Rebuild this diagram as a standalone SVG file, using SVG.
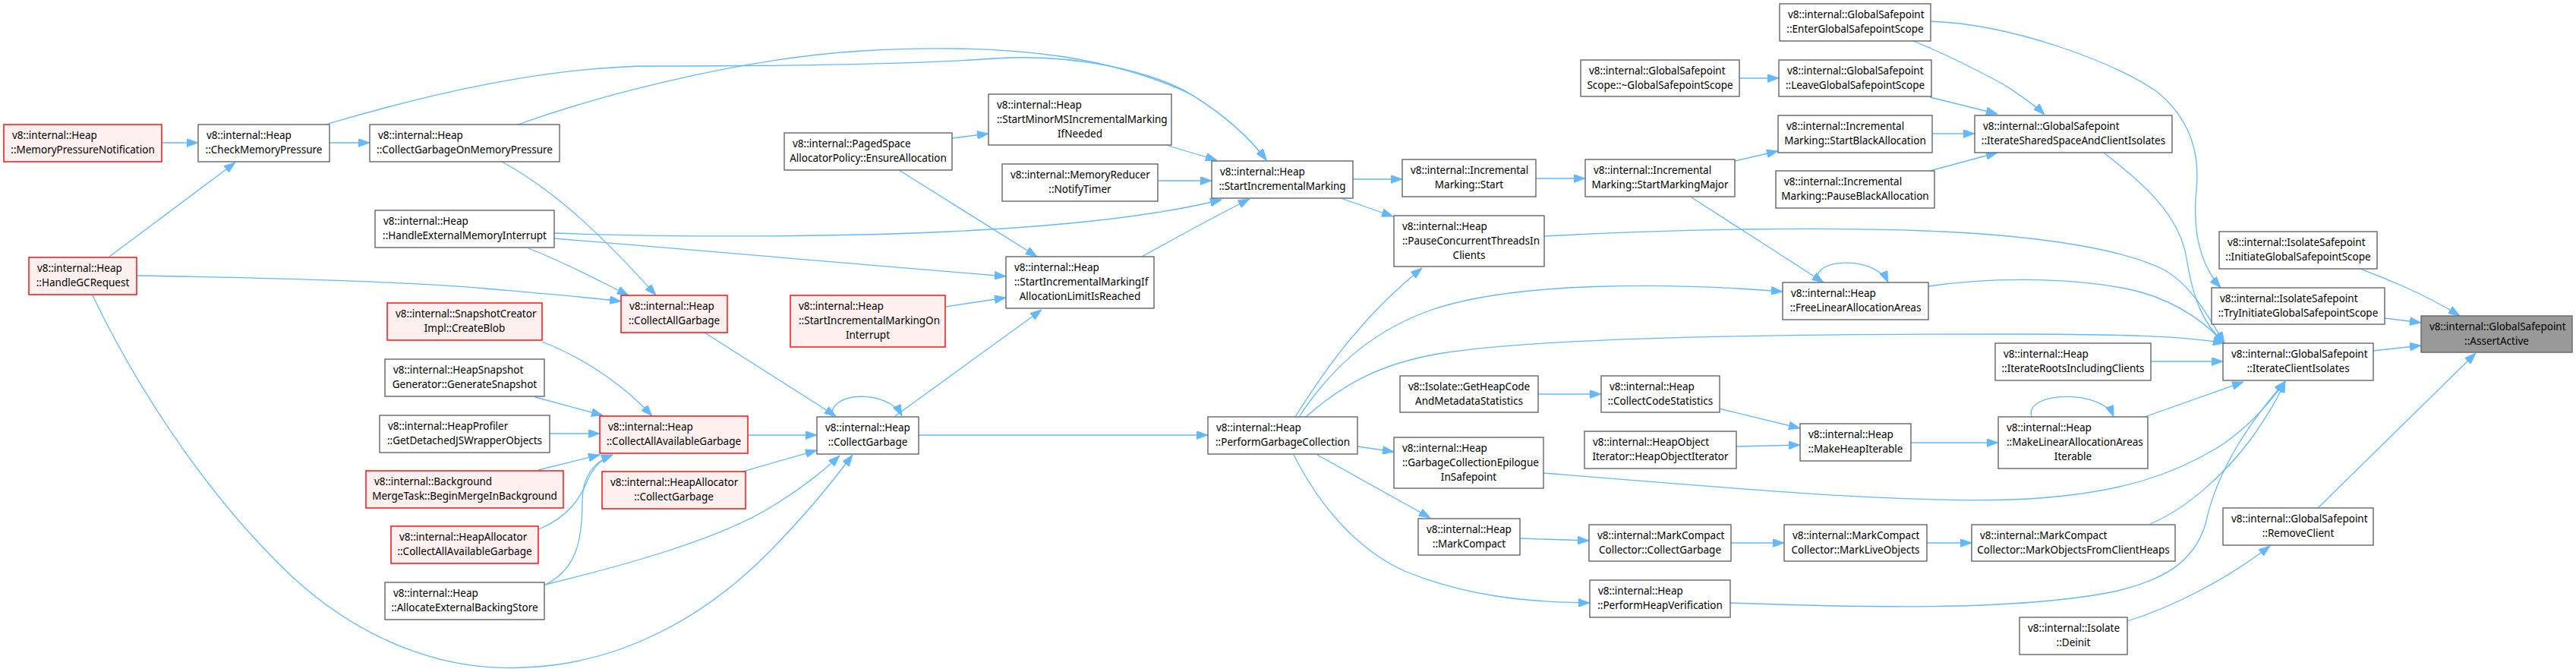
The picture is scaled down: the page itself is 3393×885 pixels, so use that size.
<svg xmlns="http://www.w3.org/2000/svg" width="3393" height="885" viewBox="0 0 3393 885">
<style>
.n rect{fill:#ffffff;stroke:#666666;stroke-width:1.4}
.r rect{fill:#fff0f0;stroke:#ff0000;stroke-width:1.4}
.g rect{fill:#999999;stroke:#666666;stroke-width:1.4}
text{font-family:"Noto Sans","Liberation Sans",sans-serif;font-size:13.5px;fill:#000000}
.m{text-anchor:middle}
#edges path{fill:none;stroke:#63b8ff;stroke-width:1.3;marker-end:url(#ah)}
</style>
<defs>
<marker id="ah" markerUnits="userSpaceOnUse" markerWidth="15" markerHeight="11" refX="15" refY="5.5" orient="auto"><path d="M0,0 L15,5.5 L0,11 z" fill="#63b8ff" stroke="#63b8ff" stroke-width="0.8"/></marker>
</defs>
<rect x="0" y="0" width="3393" height="885" fill="#ffffff"/>
<g id="edges">
<path d="M213,188 L261,188"/>
<path d="M434,188 L487,188"/>
<path d="M144,338 L310,214"/>
<path d="M429,164 C560,125 720,87 863,87 C1000,87 1200,85 1310,77 C1420,70 1520,95 1570,125 C1610,150 1645,180 1668,211"/>
<path d="M682,164 C820,115 1000,75 1135,67 C1200,63 1300,60 1403,75 C1480,88 1530,105 1570,125 C1610,150 1645,180 1668,211"/>
<path d="M661,213 C720,245 780,295 864,389"/>
<path d="M730,307 C900,313 1100,312 1250,305 C1400,298 1520,285 1609,263"/>
<path d="M730,314 C950,333 1150,350 1325,364"/>
<path d="M696,327 C730,340 770,360 800,375 C812,381 820,385 828,389"/>
<path d="M180,363 C350,366 520,370 640,380 C720,387 780,392 818,397"/>
<path d="M121,387 C170,490 260,640 380,755 C470,840 580,885 690,879 C820,875 930,810 1010,730 C1060,680 1100,630 1123,599"/>
<path d="M714,450 C760,468 815,500 859,548"/>
<path d="M705,523 L794,547"/>
<path d="M724,571 L790,571"/>
<path d="M709,619 L790,599"/>
<path d="M710,697 C750,680 765,655 775,630 C785,610 795,604 807,599"/>
<path d="M718,770 C760,750 767,710 767,660 C767,625 785,607 807,599"/>
<path d="M718,770 C820,745 950,710 1020,665 C1060,640 1085,620 1106,600"/>
<path d="M985,573 L1076,573"/>
<path d="M978,621 L1076,593"/>
<path d="M928,438 L1101,548"/>
<path d="M1096,549 C1090,515 1170,512 1188,548"/>
<path d="M1179,548 L1372,408"/>
<path d="M1210,573 L1591,573"/>
<path d="M1245,404 L1325,392"/>
<path d="M1254,182 L1302,176"/>
<path d="M1184,224 L1366,338"/>
<path d="M1539,192 L1603,211"/>
<path d="M1525,238 L1596,238"/>
<path d="M1504,338 C1540,318 1600,285 1646,262"/>
<path d="M1782,236 L1847,236"/>
<path d="M1766,261 L1835,285"/>
<path d="M2022,235 L2088,235"/>
<path d="M2285,212 L2342,199"/>
<path d="M2228,260 L2402,372"/>
<path d="M2291,103 L2343,103"/>
<path d="M2520,54 C2560,70 2610,95 2642,113 C2660,125 2680,138 2693,151"/>
<path d="M2542,128 L2631,150"/>
<path d="M2545,176 L2601,176"/>
<path d="M2542,225 L2631,201"/>
<path d="M2543,28 C2650,32 2780,80 2840,120 C2890,160 2897,210 2893,250 C2888,300 2895,345 2925,379"/>
<path d="M2771,201 C2820,240 2870,280 2880,340 C2888,390 2900,425 2930,452"/>
<path d="M2034,311 C2200,302 2400,298 2560,305 C2700,312 2800,330 2850,355 C2885,375 2905,410 2930,452"/>
<path d="M2540,377 C2620,365 2720,365 2800,380 C2860,392 2900,420 2930,452"/>
<path d="M1711,549 C1750,490 1800,440 1880,410 C1990,370 2200,372 2348,384"/>
<path d="M1706,549 C1740,495 1790,420 1873,353"/>
<path d="M1720,549 C1770,505 1820,478 1900,465 C2050,442 2400,440 2650,440 C2800,440 2880,443 2930,452"/>
<path d="M2833,476 L2928,476"/>
<path d="M2825,549 L2955,503"/>
<path d="M2033,623 C2300,645 2500,662 2650,658 C2800,652 2870,620 2920,590 C2960,565 2990,530 3010,502"/>
<path d="M2832,690 C2880,670 2930,625 2965,578 C2985,550 3000,525 3010,502"/>
<path d="M2279,794 C2450,800 2650,805 2780,780 C2850,765 2890,740 2905,690 C2920,620 2960,560 3010,502"/>
<path d="M3126,462 L3189,455"/>
<path d="M3141,419 L3189,425"/>
<path d="M3109,354 C3140,366 3190,385 3240,416"/>
<path d="M3053,669 L3261,465"/>
<path d="M2802,818 C2860,800 2930,765 2990,719"/>
<path d="M1788,588 L1836,595"/>
<path d="M1735,599 L1884,682"/>
<path d="M1704,599 C1740,670 1790,725 1850,752 C1930,785 2010,793 2094,794"/>
<path d="M2002,709 L2093,712"/>
<path d="M2280,715 L2350,715"/>
<path d="M2538,715 L2597,715"/>
<path d="M2026,519 L2109,519"/>
<path d="M2264,538 L2371,564"/>
<path d="M2287,588 L2371,586"/>
<path d="M2517,583 L2632,583"/>
<path d="M2676,549 C2665,515 2770,512 2784,549"/>
<path d="M2396,372 C2380,340 2470,335 2487,372"/>
</g>
<g id="n1" class="r"><rect x="5" y="164" width="208" height="49"/><text x="16" y="183">v8::internal::Heap</text><text x="109" y="202" class="m">::MemoryPressureNotification</text></g>
<g id="n2" class="n"><rect x="261" y="164" width="173" height="49"/><text x="272" y="183">v8::internal::Heap</text><text x="347.5" y="202" class="m">::CheckMemoryPressure</text></g>
<g id="n3" class="n"><rect x="487" y="164" width="250" height="49"/><text x="498" y="183">v8::internal::Heap</text><text x="612" y="202" class="m">::CollectGarbageOnMemoryPressure</text></g>
<g id="n4" class="n"><rect x="494" y="277" width="236" height="49"/><text x="505" y="296">v8::internal::Heap</text><text x="612" y="315" class="m">::HandleExternalMemoryInterrupt</text></g>
<g id="n5" class="r"><rect x="38" y="339" width="142" height="49"/><text x="49" y="358">v8::internal::Heap</text><text x="109" y="377" class="m">::HandleGCRequest</text></g>
<g id="n6" class="r"><rect x="510" y="399" width="204" height="49"/><text x="521" y="418">v8::internal::SnapshotCreator</text><text x="612" y="437" class="m">Impl::CreateBlob</text></g>
<g id="n7" class="n"><rect x="507" y="473" width="210" height="49"/><text x="518" y="492">v8::internal::HeapSnapshot</text><text x="612" y="511" class="m">Generator::GenerateSnapshot</text></g>
<g id="n8" class="n"><rect x="500" y="547" width="224" height="49"/><text x="511" y="566">v8::internal::HeapProfiler</text><text x="612" y="585" class="m">::GetDetachedJSWrapperObjects</text></g>
<g id="n9" class="r"><rect x="482" y="620" width="260" height="49"/><text x="493" y="639">v8::internal::Background</text><text x="612" y="658" class="m">MergeTask::BeginMergeInBackground</text></g>
<g id="n10" class="r"><rect x="515" y="693" width="194" height="49"/><text x="526" y="712">v8::internal::HeapAllocator</text><text x="612" y="731" class="m">::CollectAllAvailableGarbage</text></g>
<g id="n11" class="n"><rect x="507" y="767" width="210" height="49"/><text x="518" y="786">v8::internal::Heap</text><text x="612" y="805" class="m">::AllocateExternalBackingStore</text></g>
<g id="n12" class="r"><rect x="818" y="389" width="140" height="49"/><text x="829" y="408">v8::internal::Heap</text><text x="888" y="427" class="m">::CollectAllGarbage</text></g>
<g id="n13" class="r"><rect x="790" y="548" width="195" height="49"/><text x="801" y="567">v8::internal::Heap</text><text x="887.5" y="586" class="m">::CollectAllAvailableGarbage</text></g>
<g id="n14" class="r"><rect x="793" y="621" width="189" height="49"/><text x="804" y="640">v8::internal::HeapAllocator</text><text x="887.5" y="659" class="m">::CollectGarbage</text></g>
<g id="n15" class="n"><rect x="1033" y="175" width="221" height="49"/><text x="1044" y="194">v8::internal::PagedSpace</text><text x="1143.5" y="213" class="m">AllocatorPolicy::EnsureAllocation</text></g>
<g id="n16" class="r"><rect x="1041" y="389" width="204" height="68"/><text x="1052" y="408">v8::internal::Heap</text><text x="1052" y="427">::StartIncrementalMarkingOn</text><text x="1143" y="446" class="m">Interrupt</text></g>
<g id="n17" class="n"><rect x="1076" y="549" width="134" height="49"/><text x="1087" y="568">v8::internal::Heap</text><text x="1143" y="587" class="m">::CollectGarbage</text></g>
<g id="n18" class="n"><rect x="1302" y="124" width="241" height="67"/><text x="1313" y="143">v8::internal::Heap</text><text x="1313" y="162">::StartMinorMSIncrementalMarking</text><text x="1422.5" y="181" class="m">IfNeeded</text></g>
<g id="n19" class="n"><rect x="1320" y="216" width="205" height="49"/><text x="1331" y="235">v8::internal::MemoryReducer</text><text x="1422.5" y="254" class="m">::NotifyTimer</text></g>
<g id="n20" class="n"><rect x="1325" y="338" width="195" height="68"/><text x="1336" y="357">v8::internal::Heap</text><text x="1336" y="376">::StartIncrementalMarkingIf</text><text x="1422.5" y="395" class="m">AllocationLimitIsReached</text></g>
<g id="n21" class="n"><rect x="1596" y="212" width="186" height="49"/><text x="1607" y="231">v8::internal::Heap</text><text x="1689" y="250" class="m">::StartIncrementalMarking</text></g>
<g id="n22" class="n"><rect x="1591" y="549" width="197" height="49"/><text x="1602" y="568">v8::internal::Heap</text><text x="1689.5" y="587" class="m">::PerformGarbageCollection</text></g>
<g id="n23" class="n"><rect x="1847" y="210" width="176" height="49"/><text x="1858" y="229">v8::internal::Incremental</text><text x="1935" y="248" class="m">Marking::Start</text></g>
<g id="n24" class="n"><rect x="1836" y="284" width="198" height="67"/><text x="1847" y="303">v8::internal::Heap</text><text x="1847" y="322">::PauseConcurrentThreadsIn</text><text x="1935" y="341" class="m">Clients</text></g>
<g id="n25" class="n"><rect x="1844" y="495" width="182" height="48"/><text x="1855" y="514">v8::Isolate::GetHeapCode</text><text x="1935" y="533" class="m">AndMetadataStatistics</text></g>
<g id="n26" class="n"><rect x="1836" y="576" width="197" height="67"/><text x="1847" y="595">v8::internal::Heap</text><text x="1847" y="614">::GarbageCollectionEpilogue</text><text x="1934.5" y="633" class="m">InSafepoint</text></g>
<g id="n27" class="n"><rect x="1868" y="683" width="134" height="48"/><text x="1879" y="702">v8::internal::Heap</text><text x="1935" y="721" class="m">::MarkCompact</text></g>
<g id="n28" class="n"><rect x="2088" y="210" width="197" height="49"/><text x="2099" y="229">v8::internal::Incremental</text><text x="2186.5" y="248" class="m">Marking::StartMarkingMajor</text></g>
<g id="n29" class="n"><rect x="2082" y="79" width="209" height="48"/><text x="2093" y="98">v8::internal::GlobalSafepoint</text><text x="2186.5" y="117" class="m">Scope::~GlobalSafepointScope</text></g>
<g id="n30" class="n"><rect x="2109" y="495" width="156" height="48"/><text x="2120" y="514">v8::internal::Heap</text><text x="2187" y="533" class="m">::CollectCodeStatistics</text></g>
<g id="n31" class="n"><rect x="2087" y="568" width="200" height="49"/><text x="2098" y="587">v8::internal::HeapObject</text><text x="2187" y="606" class="m">Iterator::HeapObjectIterator</text></g>
<g id="n32" class="n"><rect x="2093" y="691" width="187" height="48"/><text x="2104" y="710">v8::internal::MarkCompact</text><text x="2186.5" y="729" class="m">Collector::CollectGarbage</text></g>
<g id="n33" class="n"><rect x="2094" y="764" width="185" height="49"/><text x="2105" y="783">v8::internal::Heap</text><text x="2186.5" y="802" class="m">::PerformHeapVerification</text></g>
<g id="n34" class="n"><rect x="2344" y="5" width="199" height="49"/><text x="2355" y="24">v8::internal::GlobalSafepoint</text><text x="2443.5" y="43" class="m">::EnterGlobalSafepointScope</text></g>
<g id="n35" class="n"><rect x="2343" y="79" width="201" height="48"/><text x="2354" y="98">v8::internal::GlobalSafepoint</text><text x="2443.5" y="117" class="m">::LeaveGlobalSafepointScope</text></g>
<g id="n36" class="n"><rect x="2342" y="152" width="203" height="49"/><text x="2353" y="171">v8::internal::Incremental</text><text x="2443.5" y="190" class="m">Marking::StartBlackAllocation</text></g>
<g id="n37" class="n"><rect x="2339" y="225" width="209" height="49"/><text x="2350" y="244">v8::internal::Incremental</text><text x="2443.5" y="263" class="m">Marking::PauseBlackAllocation</text></g>
<g id="n38" class="n"><rect x="2348" y="372" width="192" height="49"/><text x="2359" y="391">v8::internal::Heap</text><text x="2444" y="410" class="m">::FreeLinearAllocationAreas</text></g>
<g id="n39" class="n"><rect x="2371" y="558" width="146" height="49"/><text x="2382" y="577">v8::internal::Heap</text><text x="2444" y="596" class="m">::MakeHeapIterable</text></g>
<g id="n40" class="n"><rect x="2350" y="691" width="188" height="48"/><text x="2361" y="710">v8::internal::MarkCompact</text><text x="2444" y="729" class="m">Collector::MarkLiveObjects</text></g>
<g id="n41" class="n"><rect x="2601" y="152" width="260" height="49"/><text x="2612" y="171">v8::internal::GlobalSafepoint</text><text x="2731" y="190" class="m">::IterateSharedSpaceAndClientIsolates</text></g>
<g id="n42" class="n"><rect x="2628" y="452" width="205" height="49"/><text x="2639" y="471">v8::internal::Heap</text><text x="2730.5" y="490" class="m">::IterateRootsIncludingClients</text></g>
<g id="n43" class="n"><rect x="2632" y="549" width="197" height="68"/><text x="2643" y="568">v8::internal::Heap</text><text x="2643" y="587">::MakeLinearAllocationAreas</text><text x="2730.5" y="606" class="m">Iterable</text></g>
<g id="n44" class="n"><rect x="2597" y="691" width="268" height="48"/><text x="2608" y="710">v8::internal::MarkCompact</text><text x="2731" y="729" class="m">Collector::MarkObjectsFromClientHeaps</text></g>
<g id="n45" class="n"><rect x="2660" y="813" width="142" height="49"/><text x="2671" y="832">v8::internal::Isolate</text><text x="2731" y="851" class="m">::Deinit</text></g>
<g id="n46" class="n"><rect x="2923" y="305" width="208" height="49"/><text x="2934" y="324">v8::internal::IsolateSafepoint</text><text x="3027" y="343" class="m">::InitiateGlobalSafepointScope</text></g>
<g id="n47" class="n"><rect x="2913" y="379" width="228" height="48"/><text x="2924" y="398">v8::internal::IsolateSafepoint</text><text x="3027" y="417" class="m">::TryInitiateGlobalSafepointScope</text></g>
<g id="n48" class="g"><rect x="3189" y="416" width="199" height="48"/><text x="3200" y="435">v8::internal::GlobalSafepoint</text><text x="3288.5" y="454" class="m">::AssertActive</text></g>
<g id="n49" class="n"><rect x="2928" y="452" width="198" height="49"/><text x="2939" y="471">v8::internal::GlobalSafepoint</text><text x="3027" y="490" class="m">::IterateClientIsolates</text></g>
<g id="n50" class="n"><rect x="2928" y="669" width="198" height="49"/><text x="2939" y="688">v8::internal::GlobalSafepoint</text><text x="3027" y="707" class="m">::RemoveClient</text></g>
</svg>
